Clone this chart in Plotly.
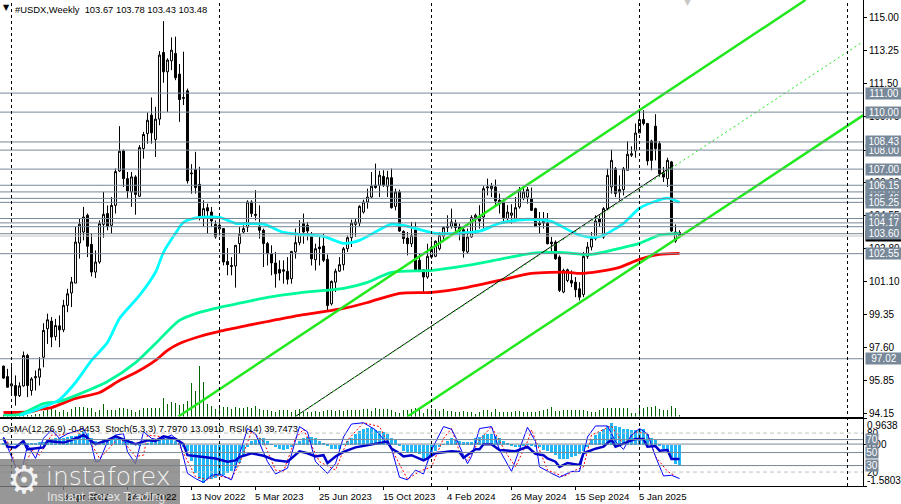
import plotly.graph_objects as go

opens = [96.63,96.08,95.59,95.61,95.08,95.59,97.19,95.35,96.01,96.05,
97.10,98.60,99.00,98.19,98.75,98.54,99.83,100.48,101.00,103.11,
103.69,104.57,103.04,101.58,102.11,104.09,104.66,104.04,105.09,106.90,
107.96,106.50,105.80,106.59,105.57,108.08,108.87,109.84,108.56,109.63,
113.14,112.12,112.70,113.09,112.00,110.77,111.12,106.80,106.97,106.20,
104.48,104.97,104.74,104.09,103.85,103.87,102.14,101.93,101.90,103.08,
103.69,103.95,105.27,104.62,104.00,103.78,103.08,102.55,102.06,101.72,
101.70,101.62,101.23,102.64,103.13,104.13,104.04,103.51,102.23,102.90,
102.95,102.25,99.91,101.05,101.63,101.97,102.81,103.39,104.09,104.16,
104.74,105.27,105.53,106.15,106.15,106.62,106.10,106.55,105.04,105.80,
103.72,103.37,103.07,103.81,102.20,101.70,101.32,102.37,102.41,102.81,
103.46,103.92,103.99,104.16,103.95,103.81,102.64,103.43,104.45,104.48,
104.48,106.01,105.97,106.06,105.36,105.27,104.39,104.57,104.39,105.01,
105.45,105.53,105.45,104.92,104.16,104.30,104.16,103.16,103.16,102.37,
100.53,101.14,101.14,101.05,100.70,100.40,102.41,102.90,103.34,104.39,
103.42,104.92,106.06,107.02,105.92,105.92,106.94,107.73,107.96,108.90,
109.61,109.40,108.48,109.26,108.34,106.80,106.50,107.38,103.21,103.67]
highs = [96.66,96.49,96.63,96.14,95.78,97.40,97.28,96.05,96.40,97.10,
98.89,99.39,99.21,99.12,99.30,100.12,100.70,101.32,103.95,104.39,
105.01,104.66,103.60,102.72,104.30,105.80,105.09,105.53,107.03,109.26,
108.03,106.85,106.85,106.68,108.26,108.96,109.98,110.77,110.28,113.21,
114.79,112.83,113.93,113.97,112.53,113.18,111.24,107.26,107.91,107.12,
105.36,105.18,105.01,104.30,104.30,103.90,102.85,102.37,102.99,103.95,
104.04,105.36,105.36,105.89,105.09,103.87,103.16,102.99,102.64,102.20,
102.20,102.37,102.67,103.87,104.31,104.66,104.22,103.69,103.07,103.43,
103.60,102.51,101.14,101.76,102.37,102.90,103.51,104.34,104.39,105.10,
105.39,105.97,106.85,107.29,106.91,106.94,106.91,107.03,105.97,105.92,
103.78,103.69,104.22,104.22,102.55,101.70,103.07,103.25,103.25,103.69,
103.99,104.57,104.92,104.34,104.13,103.99,103.87,104.57,104.66,105.10,
106.10,106.50,106.27,106.45,105.71,105.45,105.10,105.15,105.53,106.06,
106.10,106.06,106.03,104.97,104.74,104.74,104.69,103.43,103.25,102.46,
101.76,101.76,101.67,101.32,101.05,102.64,103.16,103.69,104.57,104.56,
105.00,107.02,108.03,107.11,106.67,107.11,108.48,108.20,109.40,110.10,
110.10,109.43,108.55,109.89,108.48,107.11,107.60,107.43,104.09,103.78]
lows = [95.96,95.52,95.08,94.55,95.00,95.55,95.00,95.08,95.35,95.61,
96.57,97.80,97.63,97.98,97.63,98.42,99.47,99.74,101.00,102.29,
103.25,102.37,101.35,101.27,102.02,103.39,103.78,103.60,104.66,106.85,
106.06,105.45,105.01,104.60,105.53,107.55,108.34,108.34,107.64,109.31,
111.54,110.01,112.21,111.68,109.49,110.37,106.24,105.71,105.71,104.30,
103.95,103.60,103.95,103.34,103.50,101.93,101.41,101.41,100.76,102.55,
103.60,103.69,104.48,104.30,103.34,101.85,101.93,101.41,100.76,101.14,
100.97,100.93,100.97,102.29,102.99,103.07,103.25,101.93,101.67,101.93,
102.11,99.56,99.82,100.53,101.58,101.67,102.64,102.90,103.43,103.99,
104.66,104.92,105.45,105.97,105.53,106.06,105.53,104.92,104.83,103.69,
103.07,102.46,102.90,101.62,101.67,100.53,101.23,102.28,102.37,102.72,
103.16,103.69,103.87,103.60,103.25,102.34,102.55,103.39,103.60,103.87,
103.87,105.62,105.53,105.10,104.66,104.22,104.16,104.13,104.22,104.92,
105.36,105.18,104.80,103.95,103.60,103.87,103.04,102.64,102.23,100.53,
100.47,101.05,100.79,100.26,100.09,100.26,102.28,102.72,103.25,103.95,
103.33,104.83,105.71,105.53,105.35,105.62,106.94,107.64,107.60,108.90,
109.30,107.20,106.94,107.46,106.58,106.32,106.06,103.69,103.12,103.43]
closes = [96.00,95.52,95.70,95.08,95.59,97.19,95.61,95.96,96.08,96.49,
98.51,99.07,98.16,98.77,98.54,99.83,100.44,101.06,103.16,104.10,
104.48,102.94,101.58,102.11,104.13,104.62,103.99,105.09,106.87,107.94,
106.50,105.85,106.59,105.67,108.13,108.82,109.57,108.91,109.63,113.00,
112.12,112.74,113.26,111.81,110.66,110.73,106.38,106.76,106.03,104.48,
104.92,104.80,104.27,103.43,104.05,102.11,101.97,101.88,102.99,103.55,
103.87,105.27,104.66,104.57,103.78,103.08,102.55,102.06,101.49,101.53,
101.63,101.20,102.67,103.13,103.60,103.69,103.74,102.28,102.81,102.81,
102.20,99.82,101.09,101.63,101.97,102.81,103.39,104.16,104.22,105.04,
105.27,105.53,106.10,106.03,106.68,106.15,106.55,104.97,105.80,103.74,
103.34,103.07,103.51,101.63,101.67,101.32,102.41,102.90,103.20,103.51,
103.92,103.99,104.22,103.92,103.74,102.69,103.43,104.45,104.57,104.27,
105.97,106.06,106.10,105.32,105.18,104.45,104.74,104.69,104.97,105.89,
105.80,105.92,104.83,103.99,104.08,104.16,103.07,103.07,102.28,100.62,
101.67,101.70,101.00,100.65,100.26,102.41,102.90,103.34,104.27,104.21,
104.92,106.67,107.46,105.71,105.79,107.02,107.78,107.81,108.90,109.61,
109.40,107.43,107.46,108.08,106.76,106.58,107.46,103.74,103.69,103.48]
volumes = [2,2,2,3,3,2,2,2,3,3,
6,7,8,7,5,7,5,8,10,10,10,9,9,5,7,13,7,7,7,9,9,8,7,5,7,9,9,9,9,9,19,13,15,14,12,13,16,34,26,51,35,13,11,8,9,10,10,8,10,9,9,10,9,11,8,7,7,6,5,7,7,7,5,7,8,
5,5,5,6,5,6,7,7,6,7,6,7,7,7,7,8,8,6,9,8,8,8,7,5,4,7,7,8,9,8,4,8,8,8,6,8,6,
6,5,5,6,5,5,3,5,7,7,5,8,5,5,5,5,6,6,5,5,5,5,6,7,8,10,6,6,7,7,7,7,7,7,6,5,5,7,9,9,9,9,9,9,9,4,4,9,9,10,10,11,8,7,7,11,9,1]
osma = [.05,.04,.02,.02,.04,.05,.05,.03,.05,.08,.10,.14,
.20,.26,.26,.23,.29,.33,.33,.39,.48,.45,.23,.14,.10,.20,.20,.23,.26,.26,.20,.18,.14,.05,-.03,.01,.05,.10,.15,.20,.25,.25,.20,.14,.05,-.08,-.24,-.62,-1.06,-1.28,-1.43,-1.31,-1.31,-1.25,-1.18,-1.16,-1.06,-.99,-.87,-.68,-.43,-.11,.14,.20,.23,.23,.14,.01,-.08,-.18,-.21,-.18,-.08,.01,.14,.26,.29,.29,.23,.14,.05,-.05,-.15,-.18,-.15,.01,.14,.26,.39,.52,.60,.62,.62,.55,.52,.48,.39,.26,.18,-.03,-.24,-.30,-.28,-.30,-.36,-.58,-.55,-.40,-.24,-.11,.01,.14,
.23,.18,.14,.10,.11,.10,.23,.29,.35,.39,.39,.33,.23,.14,.05,-.03,-.08,-.11,-.05,.01,-.03,-.08,-.11,-.20,-.24,-.30,-.40,-.53,-.55,-.53,-.48,-.43,-.36,-.24,-.11,.20,.35,.48,.60,.70,.83,.70,.67,.60,.58,.55,.55,.60,.58,.39,.26,.18,-.03,-.15,-.19,-.49,-.74,-.78]

red_idx = [0,7,9,12,18,24,29,34,38,41,44,49,54,61,66,74,85,91,99,107,116,124,132,141,144,149,154,159,164,169]
red_val = [94.19,94.24,94.35,94.45,94.93,95.24,95.87,96.40,96.93,97.46,97.82,98.19,98.46,98.77,98.98,99.30,99.67,99.98,100.46,100.51,100.78,101.14,101.51,101.57,101.51,101.62,101.83,102.25,102.51,102.57]
green_idx = [0,4,10,14,18,26,33,38,44,49,54,60,66,74,85,91,97,107,116,124,132,139,147,154,159,164,169]
green_val = [94.05,94.08,94.66,94.77,95.08,95.82,96.82,97.82,99.04,99.46,99.72,99.98,100.25,100.49,100.72,101.04,101.57,101.67,101.93,102.25,102.57,102.62,102.51,102.83,103.09,103.52,103.62]
cyan_idx = [4,9,14,18,22,26,29,34,38,40,43,45,49,54,58,65,70,74,80,85,89,97,101,108,119,124,131,137,139,144,148,150,155,159,163,166,169]
cyan_val = [94.03,94.40,94.87,95.77,96.93,97.88,99.14,100.35,101.57,102.62,103.62,104.20,104.46,104.46,104.15,104.10,103.67,103.57,103.46,103.09,103.25,104.10,103.99,103.62,103.73,104.15,104.36,104.25,104.04,103.52,103.41,103.52,104.15,104.94,105.31,105.47,105.25]

channel_up_idx = [43.75,200.5]
channel_up_val = [93.98,115.9]
channel_low_idx = [101,215]
channel_low_val = [93.98,109.84]
mid_solid_idx = [73,167.5]
mid_solid_val = [93.98,107.2]
mid_dot_idx = [73,214.75]
mid_dot_val = [93.98,113.69]

rsi_idx = [0,1,3,5,6,10,11,15,19,20,23,26,28,31,33,36,38,40,43,45,46,49,53,56,58,59,62,65,68,71,73,74,76,78,80,81,83,85,88,92,96,97,99,100,102,105,106,108,111,
112,114,115,118,119,120,122,124,128,131,133,135,136,138,139,141,144,145,148,150,152,153,158,160,161,163,164,166,167,169]
rsi_val = [72,59,58,68,55,58,68,65,74,77,63,69,75,68,63,69,68,75,71,63,46,44,41,36,38,43,49,45,38,36,46,52,49,44,46,34,44,51,58,63,67,56,49,44,46,38,41,49,52,
52,51,42,55,55,63,63,54,52,59,48,46,41,36,28,34,31,49,56,59,70,59,71,71,59,60,53,54,40,40]
stoch_idx = [0,1,2,4,5,6,8,10,12,14,16,20,22,23,24,26,28,30,31,33,35,37,39,42,44,46,48,50,52,54,57,58,61,63,66,68,71,74,76,78,81,83,85,87,90,93,97,99,101,103,105,107,110,112,
113,115,116,117,119,122,124,127,130,131,133,134,137,139,142,144,146,148,151,153,155,157,159,161,163,165,167,169]
stoch_val = [74,59,41,13,33,62,41,72,85,72,79,87,62,36,37,67,77,79,51,33,82,72,69,77,67,18,10,4,15,17,8,28,87,79,36,17,26,90,82,36,18,33,74,94,96,85,56,12,8,23,17,54,90,86,
74,46,33,44,87,90,54,21,72,89,67,28,18,12,21,21,74,91,91,67,55,77,87,79,44,14,15,10]
signal_idx = [1,3,5,7,9,12,14,18,21,24,26,29,33,35,36,43,45,48,51,53,57,59,62,65,68,70,73,75,79,83,86,90,94,98,101,104,107,110,112,
114,116,119,122,126,128,131,132,134,136,140,143,145,147,152,155,158,161,163,166,168]
signal_val = [67,31,23,54,46,77,77,82,74,41,54,74,44,46,77,72,49,13,8,15,10,33,82,67,23,21,72,86,36,23,69,96,90,44,9,21,28,72,87,
51,38,69,90,46,28,67,85,54,23,13,23,28,77,91,62,82,79,44,21,14]

level_values = [111.00,110.00,108.43,108.00,107.00,106.15,105.80,105.46,105.25,104.40,104.17,103.97,103.60,102.55,97.02]
bid_price = 103.48
price_ticks = [115.00,113.25,111.50,109.75,108.00,106.30,104.55,102.80,101.10,99.35,97.60,95.85,94.15]
date_idx = [-1,15,31,47,63,79,95,111,127,143,159]
date_labels = ["12 Dec 2021","3 Apr 2022","24 Jul 2022","13 Nov 2022","5 Mar 2023","25 Jun 2023","15 Oct 2023","4 Feb 2024","26 May 2024","15 Sep 2024","5 Jan 2025"]
year_idx = [2,54,107,159,211]
header = "#USDX,Weekly\u00a0\u00a0103.67 103.78 103.43 103.48"
ind_header = "OsMA(12,26,9) -0.8453\u00a0\u00a0Stoch(5,3,3) 7.7970 13.0910\u00a0 RSI(14) 39.7473"

FONT = "Liberation Sans"
SZ = 9.6
SZ_AXIS = 10
idx = list(range(len(closes)))
X0, X1 = -0.875, 214.875
P0, P1 = 93.98, 115.9
fig = go.Figure()
fig.add_bar(x=idx, y=volumes, width=0.25, marker=dict(color="#006400", line=dict(width=0)), xaxis="x", yaxis="y", showlegend=False)
fig.add_candlestick(x=idx, open=opens, high=highs, low=lows, close=closes, xaxis="x", yaxis="y2", showlegend=False,
    increasing=dict(fillcolor="#ffffff", line=dict(color="#000000", width=1)),
    decreasing=dict(fillcolor="#000000", line=dict(color="#000000", width=1)), whiskerwidth=0)
def line(x, y, color, w, dash="solid", ax=("x", "y2"), smooth=False):
    ln = dict(color=color, width=w, dash=dash)
    if smooth:
        ln.update(shape="spline", smoothing=0.7)
    fig.add_scatter(x=x, y=y, mode="lines", line=ln, xaxis=ax[0], yaxis=ax[1], showlegend=False)
line(red_idx, red_val, "#FF0000", 2.8, smooth=True)
line(green_idx, green_val, "#00FA9A", 2.8, smooth=True)
line(cyan_idx, cyan_val, "#00FFFF", 2.8, smooth=True)
line(channel_up_idx, channel_up_val, "#22E81E", 2.5)
line(channel_low_idx, channel_low_val, "#22E81E", 2.5)
line(mid_solid_idx, mid_solid_val, "#000000", 1)
line(mid_dot_idx, mid_dot_val, "#22E81E", 1, "2px,3px")

fig.add_bar(x=idx, y=osma, width=0.65, marker=dict(color="#22B8F5", line=dict(width=0)), xaxis="x2", yaxis="y3", showlegend=False)
IND = ("x2", "y4")
line(signal_idx, signal_val, "#FF0000", 1, "2px,2px", IND)
line(stoch_idx, stoch_val, "#0000FF", 1, "solid", IND)
line(rsi_idx, rsi_val, "#0000CD", 2.5, "solid", IND)

shapes = []
for v in level_values:
    shapes.append(dict(type="line", xref="x", yref="y2", x0=X0, x1=X1, y0=v, y1=v, line=dict(color="#778899", width=1), layer="above"))
shapes.append(dict(type="line", xref="x", yref="y2", x0=X0, x1=X1, y0=bid_price, y1=bid_price, line=dict(color="#C0C0C0", width=1), layer="above"))
for v, c, d in [(80, "#C0C0C0", "4px,3px"), (20, "#C0C0C0", "4px,3px"), (70, "#778899", "solid"), (50, "#778899", "solid"), (30, "#778899", "solid")]:
    shapes.append(dict(type="line", xref="x2", yref="y4", x0=X0, x1=X1, y0=v, y1=v, line=dict(color=c, width=1, dash=d), layer="above"))
shapes.append(dict(type="line", xref="x2", yref="y3", x0=X0, x1=X1, y0=0, y1=0, line=dict(color="#778899", width=1), layer="above"))
for i in year_idx:
    shapes.append(dict(type="line", xref="x", yref="paper", x0=i, x1=i, y0=0, y1=1, line=dict(color="#000000", width=1, dash="3px,3px"), layer="above"))
shapes.append(dict(type="rect", xref="paper", yref="paper", x0=0, x1=180/863, y0=-18/486, y1=27/486, fillcolor="rgba(125,125,125,0.8)", line=dict(width=0), layer="above"))

ann = []
def label(text, y, bg="#778899", fg="#ffffff", yref="y2"):
    ann.append(dict(text=text, xref="paper", yref=yref, x=865/863, y=y, xanchor="left", yanchor="middle", showarrow=False,
        bgcolor=bg, width=36, height=11, borderpad=0, align="center", font=dict(family=FONT, size=SZ_AXIS, color=fg)))
label("103.48", bid_price, "#000000")
for v in [105.80, 104.40, 105.46, 103.97, 103.60, 105.25, 106.15, 104.17, 111.00, 110.00, 108.00, 108.43, 107.00, 102.55, 97.02]:
    label("%.2f" % v, v)
for i, t in zip(date_idx, date_labels):
    ann.append(dict(text=t, xref="x", yref="paper", x=i, y=0, xanchor="left", yanchor="top", yshift=-3, xshift=-3, showarrow=False, font=dict(family=FONT, size=SZ, color="#000000")))
ann.append(dict(text=header, xref="paper", yref="paper", x=13/863, y=1, xanchor="left", yanchor="top", yshift=-2, showarrow=False, font=dict(family=FONT, size=9.4, color="#000000")))
ann.append(dict(text=ind_header, xref="paper", yref="paper", x=0, y=67/486, xanchor="left", yanchor="top", yshift=-2, showarrow=False, font=dict(family=FONT, size=9.4, color="#000000")))
ann.append(dict(text="\u25BC", xref="paper", yref="paper", x=1/863, y=1, xanchor="left", yanchor="top", yshift=-1, showarrow=False, font=dict(family="DejaVu Sans", size=8, color="#000000")))
ann.append(dict(text="\u25BC", xref="x", yref="paper", x=171, y=1, xanchor="center", yanchor="top", yshift=5, showarrow=False, font=dict(family="DejaVu Sans", size=9, color="#C8C8C8")))
for t, v, dy in [("0.9638", 0.9638, -7), ("-1.5803", -1.5803, 6)]:
    ann.append(dict(text=t, xref="paper", yref="y3", x=865/863, y=v, xanchor="left", yanchor="middle", yshift=dy, showarrow=False, font=dict(family=FONT, size=SZ_AXIS, color="#000000")))
ann.append(dict(text="0.00", xref="paper", yref="y3", x=865/863, y=0, xanchor="left", yanchor="middle", showarrow=False, font=dict(family=FONT, size=SZ_AXIS, color="#000000")))
for v in [80, 20]:
    ann.append(dict(text=str(v), xref="paper", yref="y4", x=865/863, y=v, xanchor="left", yanchor="middle", showarrow=False, font=dict(family=FONT, size=SZ_AXIS, color="#000000")))
for v in [70, 50, 30]:
    ann.append(dict(text=str(v), xref="paper", yref="y4", x=865/863, y=v, xanchor="left", yanchor="middle", showarrow=False, bgcolor="#778899", width=12, height=11, borderpad=0, font=dict(family=FONT, size=SZ_AXIS, color="#ffffff")))
ann.append(dict(text="instaforex", xref="paper", yref="paper", x=44/863, y=26/486, xanchor="left", yanchor="top", showarrow=False, font=dict(family="DejaVu Sans Light, DejaVu Sans", size=25, color="rgba(255,255,255,0.9)")))
ann.append(dict(text="Instant Forex Trading", xref="paper", yref="paper", x=45/863, y=-2/486, xanchor="left", yanchor="top", showarrow=False, font=dict(family=FONT, size=12.5, color="rgba(255,255,255,0.75)")))
ann.append(dict(text="\u2699", xref="paper", yref="paper", x=5/863, y=30/486, xanchor="left", yanchor="top", showarrow=False, font=dict(family="DejaVu Sans", size=38, color="rgba(255,255,255,0.9)")))

fig.update_layout(
    width=901, height=504, margin=dict(l=0, r=38, t=0, b=18), paper_bgcolor="#ffffff", plot_bgcolor="#ffffff",
    showlegend=False, boxgap=0.3, bargap=0, barmode="overlay", shapes=shapes, annotations=ann, font=dict(family=FONT, size=SZ, color="#000000"),
    xaxis=dict(domain=[0, 1], range=[X0, X1], anchor="y", showgrid=False, zeroline=False, showticklabels=False, ticks="", showline=True, linecolor="#000000", linewidth=1, mirror=True, rangeslider=dict(visible=False)),
    xaxis2=dict(domain=[0, 1], range=[X0, X1], anchor="y3", showgrid=False, zeroline=False, showticklabels=False, tickvals=date_idx, ticks="outside", ticklen=3, tickcolor="#000000", showline=True, linecolor="#000000", linewidth=1, mirror=True),
    yaxis=dict(domain=[69.5/486, 1], range=[0, 416.5], visible=False, fixedrange=True),
    yaxis2=dict(domain=[69.5/486, 1], overlaying="y", anchor="x", side="right", range=[P0, P1], tickvals=price_ticks, ticktext=["%.2f" % v for v in price_ticks], ticks="outside", ticklen=3, tickcolor="#000000", showgrid=False, zeroline=False, showline=True, linecolor="#000000", linewidth=1, tickfont=dict(family=FONT, size=SZ_AXIS, color="#000000")),
    yaxis3=dict(domain=[0, 67.5/486], anchor="x2", range=[-1.5803, 0.9638], side="right", showticklabels=False, tickvals=[0.9638, 0, -1.5803], ticks="outside", ticklen=3, tickcolor="#000000", showgrid=False, zeroline=False, showline=True, linecolor="#000000", linewidth=1),
    yaxis4=dict(domain=[0, 67.5/486], anchor="x2", overlaying="y3", side="right", range=[-1.5, 102.5], showticklabels=False, ticks="", showgrid=False, zeroline=False),
)
fig.write_html("out.html", config=dict(displayModeBar=False), post_script="document.body.style.margin='0';document.documentElement.style.overflow='hidden';")
